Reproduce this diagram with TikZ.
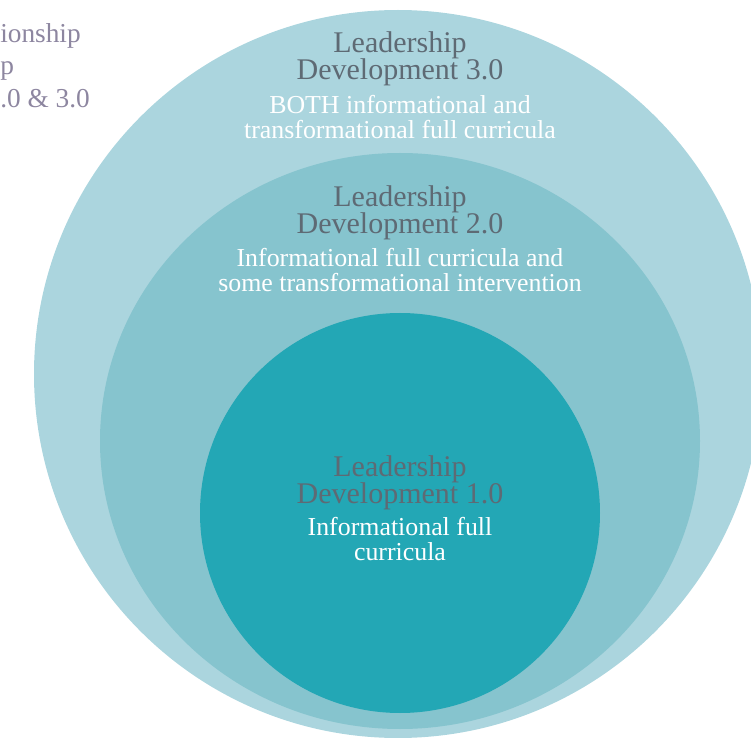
\documentclass[tikz,border=0pt]{standalone}
\usepackage{fontspec}
\setmainfont{Liberation Serif}
\usetikzlibrary{positioning}

\definecolor{ringthree}{HTML}{ABD5DE}
\definecolor{ringtwo}{HTML}{86C4CE}
\definecolor{ringone}{HTML}{23A7B5}
\definecolor{titlegray}{HTML}{5E6A74}
\definecolor{sidepurple}{HTML}{8D86A0}

\begin{document}
\begin{tikzpicture}[x=0.75pt, y=-0.75pt, inner sep=0pt,
	title/.style={text=titlegray, align=center, font=\fontsize{22.5}{20.5}\selectfont},
	blurb/.style={text=white, align=center, font=\fontsize{19.4}{18.75}\selectfont}]
			\useasboundingbox (0,0) rectangle (751,738);
			\clip (0,0) rectangle (751,738);
			
			\fill[ringthree] (398,374) circle [radius=273pt];
			\fill[ringtwo] (400,441) ellipse [x radius=225pt, y radius=216pt];
			\fill[ringone] (400,513) circle [radius=150pt];
			
			\node[anchor=north west, align=left, text=sidepurple, font=\fontsize{20.5}{24.5}\selectfont] (side) at (0,23) {ionship\\p\\.0 \& 3.0};
			
			\node[title] (lead3) at (400,59) {Leadership\\Development 3.0};
			\node[blurb] (info3) at (400,117) {BOTH informational and\\transformational full curricula};
			
			\node[title] (lead2) at (400,213) {Leadership\\Development 2.0};
			\node[blurb] (info2) at (400,270) {Informational full curricula and\\some transformational intervention};
			
			\node[title] (lead1) at (400,483) {Leadership\\Development 1.0};
			\node[blurb] (info1) at (400,539) {Informational full\\curricula};
		\end{tikzpicture}
\end{document}
